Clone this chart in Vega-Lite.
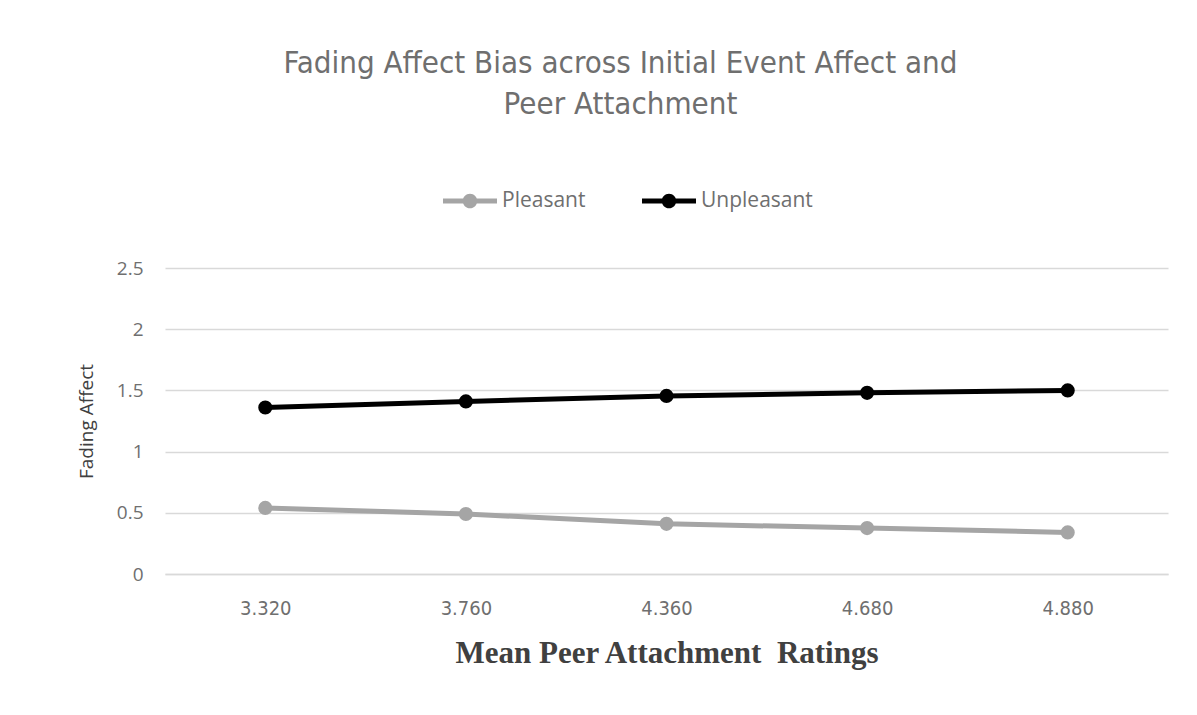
{
  "$schema": "https://vega.github.io/schema/vega-lite/v6.json",
  "width": 1003,
  "height": 306,
  "autosize": {"type": "none"},
  "padding": {"left": 165, "top": 268, "right": 29, "bottom": 141},
  "background": "white",
  "title": {
    "text": ["Fading Affect Bias across Initial Event Affect and", "Peer Attachment"],
    "font": "'DejaVu Sans Condensed', sans-serif",
    "fontSize": 31,
    "fontWeight": "normal",
    "color": "#6f6f6f",
    "lineHeight": 41,
    "anchor": "middle",
    "dx": -46,
    "offset": 53
  },
  "data": {
    "values": [
      {"rating": "3.320", "series": "Pleasant", "value": 0.54},
      {"rating": "3.760", "series": "Pleasant", "value": 0.49},
      {"rating": "4.360", "series": "Pleasant", "value": 0.41},
      {"rating": "4.680", "series": "Pleasant", "value": 0.375},
      {"rating": "4.880", "series": "Pleasant", "value": 0.34},
      {"rating": "3.320", "series": "Unpleasant", "value": 1.36},
      {"rating": "3.760", "series": "Unpleasant", "value": 1.41},
      {"rating": "4.360", "series": "Unpleasant", "value": 1.455},
      {"rating": "4.680", "series": "Unpleasant", "value": 1.48},
      {"rating": "4.880", "series": "Unpleasant", "value": 1.50}
    ]
  },
  "encoding": {
    "x": {
      "field": "rating",
      "type": "ordinal",
      "sort": null,
      "scale": {"paddingInner": 0, "paddingOuter": 0},
      "axis": {
        "title": "Mean Peer Attachment\u00a0\u00a0Ratings",
        "titleFont": "'Liberation Serif', serif",
        "titleFontSize": 31,
        "titleFontWeight": "bold",
        "titleColor": "#404040",
        "titlePadding": 20,
        "labelAngle": 0,
        "labelFont": "'DejaVu Sans Condensed', sans-serif",
        "labelFontSize": 20,
        "labelColor": "#6f6f6f",
        "labelPadding": 24,
        "ticks": false,
        "domainColor": "#d9d9d9",
        "domainWidth": 1.5,
        "grid": false
      }
    },
    "y": {
      "field": "value",
      "type": "quantitative",
      "scale": {"domain": [0, 2.5]},
      "axis": {
        "title": "Fading Affect",
        "titleFont": "'Open Sans', sans-serif",
        "titleFontSize": 19,
        "titleFontWeight": "normal",
        "titleColor": "#404040",
        "titlePadding": 20,
        "values": [0, 0.5, 1, 1.5, 2, 2.5],
        "format": "~g",
        "labelFont": "'Open Sans', sans-serif",
        "labelFontSize": 19,
        "labelColor": "#6f6f6f",
        "labelPadding": 22,
        "ticks": false,
        "domain": false,
        "gridColor": "#d9d9d9",
        "gridWidth": 1.5
      }
    },
    "color": {
      "field": "series",
      "type": "nominal",
      "scale": {"domain": ["Pleasant", "Unpleasant"], "range": ["#a5a5a5", "#000000"]},
      "legend": {
        "title": null,
        "orient": "none",
        "direction": "horizontal",
        "legendX": 278,
        "legendY": -94,
        "symbolType": "M-1,-0.09H1V0.09H-1Z M0.27,0A0.27,0.27,0,1,1,-0.27,0A0.27,0.27,0,1,1,0.27,0Z",
        "symbolSize": 2916,
        "symbolStrokeWidth": 0,
        "symbolOpacity": 1,
        "labelFont": "'Open Sans', sans-serif",
        "labelFontSize": 21,
        "labelColor": "#6f6f6f",
        "labelOffset": 5,
        "columnPadding": 56
      }
    }
  },
  "layer": [
    {"mark": {"type": "line", "strokeWidth": 5}},
    {"mark": {"type": "point", "filled": true, "size": 200, "opacity": 1}}
  ],
  "config": {"view": {"stroke": null}}
}
